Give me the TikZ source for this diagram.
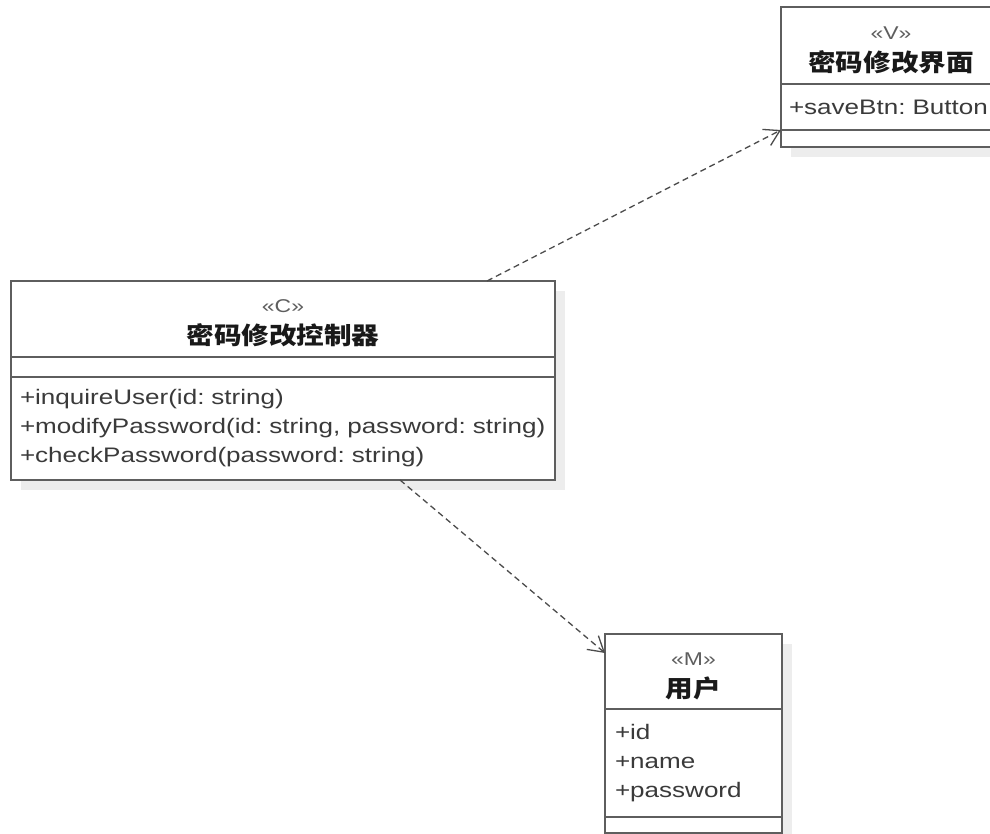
\documentclass[tikz,border=0pt]{standalone}
\usepackage{fontspec}
\setmainfont{Liberation Sans}[FakeStretch=1.24]
\newfontfamily\cjk{Noto Sans CJK SC}[FakeStretch=1.15]
\usetikzlibrary{positioning,arrows.meta,backgrounds}

\definecolor{umlline}{HTML}{5E5E5E}
\definecolor{umltext}{HTML}{3A3A3A}
\definecolor{umlshadow}{HTML}{EDEDED}

\newcommand{\stereo}[1]{{\rule{0pt}{22pt}\color{umlline}«#1»}}
\newcommand{\cname}[1]{{\cjk\bfseries\fontsize{24}{32}\selectfont\color{black!90}#1}}

\begin{document}
\frenchspacing
\begin{tikzpicture}[x=1pt, y=-1pt,
    class part/.style={draw=umlline, line width=1.8pt, fill=white, inner xsep=10pt,
                       inner ysep=0pt, outer sep=0pt, text=umltext},
    class head/.style={class part, align=center, font=\fontsize{18.5}{32}\selectfont},
    class body/.style={class part, align=left, font=\fontsize{21}{29}\selectfont},
    dep/.style={draw=black!70, line width=1.3pt, dash pattern=on 6pt off 4pt,
                -{Straight Barb[length=15pt,width=18pt]}}]
  \useasboundingbox (0,0) rectangle (990,834);

  % controller
  \node[class head, text width=524pt, minimum height=76pt, anchor=north west] (ctrl) at (11,281)
    {\stereo{C}\\\cname{密码修改控制器}};
  \node[class part, minimum width=544pt, minimum height=20pt, below=0pt of ctrl] (ctrlattr) {};
  \node[class body, inner xsep=9pt, text width=526pt, minimum height=103pt, below=0pt of ctrlattr] (ctrlops)
    {+inquireUser(id: string)\\+modifyPassword(id: string, password: string)\\+checkPassword(password: string)};

  % view
  \node[class head, text width=200pt, minimum height=77pt, anchor=north west] (view) at (781,7)
    {\stereo{V}\\\cname{密码修改界面}};
  \node[class body, inner xsep=8pt, text width=204pt, minimum height=46pt, below=0pt of view] (viewattr) {+saveBtn: Button};
  \node[class part, minimum width=220pt, minimum height=17pt, below=0pt of viewattr] (viewops) {};

  % model
  \node[class head, text width=157pt, minimum height=75pt, anchor=north west] (user) at (605,634)
    {\stereo{M}\\\cname{用户}};
  \node[class body, text width=157pt, minimum height=108pt, below=0pt of user] (userattr)
    {+id\\+name\\+password};
  \node[class part, minimum width=177pt, minimum height=16pt, below=0pt of userattr] (userops) {};

  \begin{scope}[on background layer]
    \fill[white] (0,0) rectangle (990,834);
    \fill[umlshadow] ([shift={(10,10)}]ctrl.north west) rectangle ([shift={(10,10)}]ctrlops.south east);
    \fill[umlshadow] ([shift={(10,10)}]view.north west) rectangle ([shift={(10,10)}]viewops.south east);
    \fill[umlshadow] ([shift={(10,10)}]user.north west) rectangle ([shift={(10,10)}]userops.south east);
  \end{scope}

  \coordinate (ctrltop) at ([xshift=476pt]ctrl.north west);
  \coordinate (ctrlbot) at ([xshift=389pt]ctrlops.south west);
  \coordinate (userin) at ([yshift=-19pt]user.north west);
  \draw[dep] (ctrltop) -- (viewops.north west);
  \draw[dep] (ctrlbot) -- (userin);
\end{tikzpicture}
\end{document}
